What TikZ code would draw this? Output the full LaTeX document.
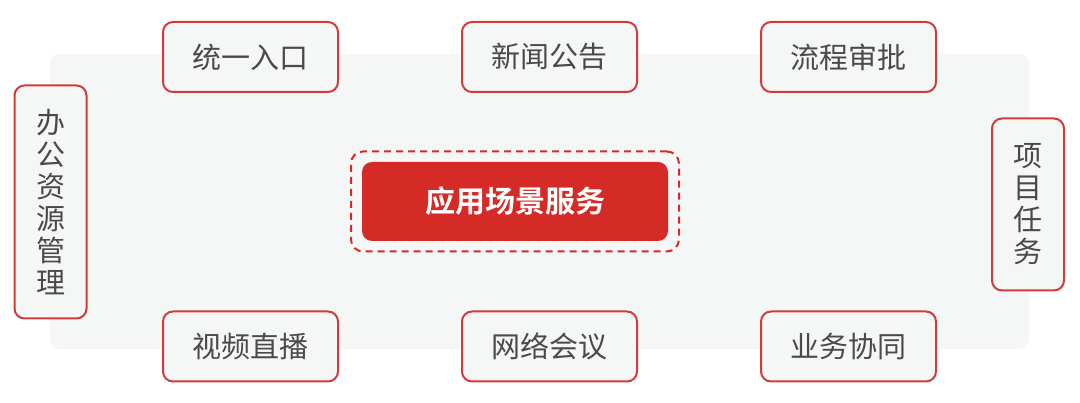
\documentclass[tikz,border=0pt]{standalone}
\usepackage{fontspec}
\newfontfamily\cjk{Noto Sans CJK SC}[BoldFont={Noto Sans CJK SC Bold}]
\usetikzlibrary{positioning}

\definecolor{panelgrey}{HTML}{F5F6F6}
\definecolor{boxred}{HTML}{D13B3B}
\definecolor{corered}{HTML}{D42B26}
\definecolor{textgrey}{HTML}{4A4A4A}

\begin{document}
\begin{tikzpicture} [x=1pt, y=-1pt, node distance = 299pt, on grid,
    item/.style = {draw=boxred, line width=2pt, fill=panelgrey, rounded corners=10pt,
                   text=textgrey, font=\cjk\fontsize{29pt}{32pt}\selectfont,
                   minimum width=175pt, minimum height=70pt, inner sep=0pt},
    tall/.style = {item, minimum width=72pt, align=center},
    core/.style = {fill=corered, rounded corners=10pt, text=white,
                   font=\cjk\bfseries\fontsize{30pt}{32pt}\selectfont,
                   minimum width=306pt, minimum height=79pt, inner sep=0pt}]

    \useasboundingbox (0,0) rectangle (1080,403);
    \fill [panelgrey, rounded corners=9pt] (50,54) rectangle (1029,349);

    \node (srv) [core] at (515,201.5) {应用场景服务};
    \node (ring) [draw=corered, line width=2pt, dash pattern=on 7pt off 5pt,
                  rounded corners=12pt, minimum width=328pt, minimum height=100pt]
                 at (srv.center) {};

    \node (entry) [item] at (250.5,57) {统一入口};
    \node (news)  [item, right = of entry] {新闻公告};
    \node (flow)  [item, right = of news]  {流程审批};

    \node (live)  [item] at (250.5,346.5) {视频直播};
    \node (meet)  [item, right = of live]  {网络会议};
    \node (coop)  [item, right = of meet]  {业务协同};

    \node (office) [tall, minimum height=233pt] at (50.5,202) {办\\公\\资\\源\\管\\理};
    \node (task)   [tall, minimum height=172pt] at (1028,204.5) {项\\目\\任\\务};

\end{tikzpicture}
\end{document}
